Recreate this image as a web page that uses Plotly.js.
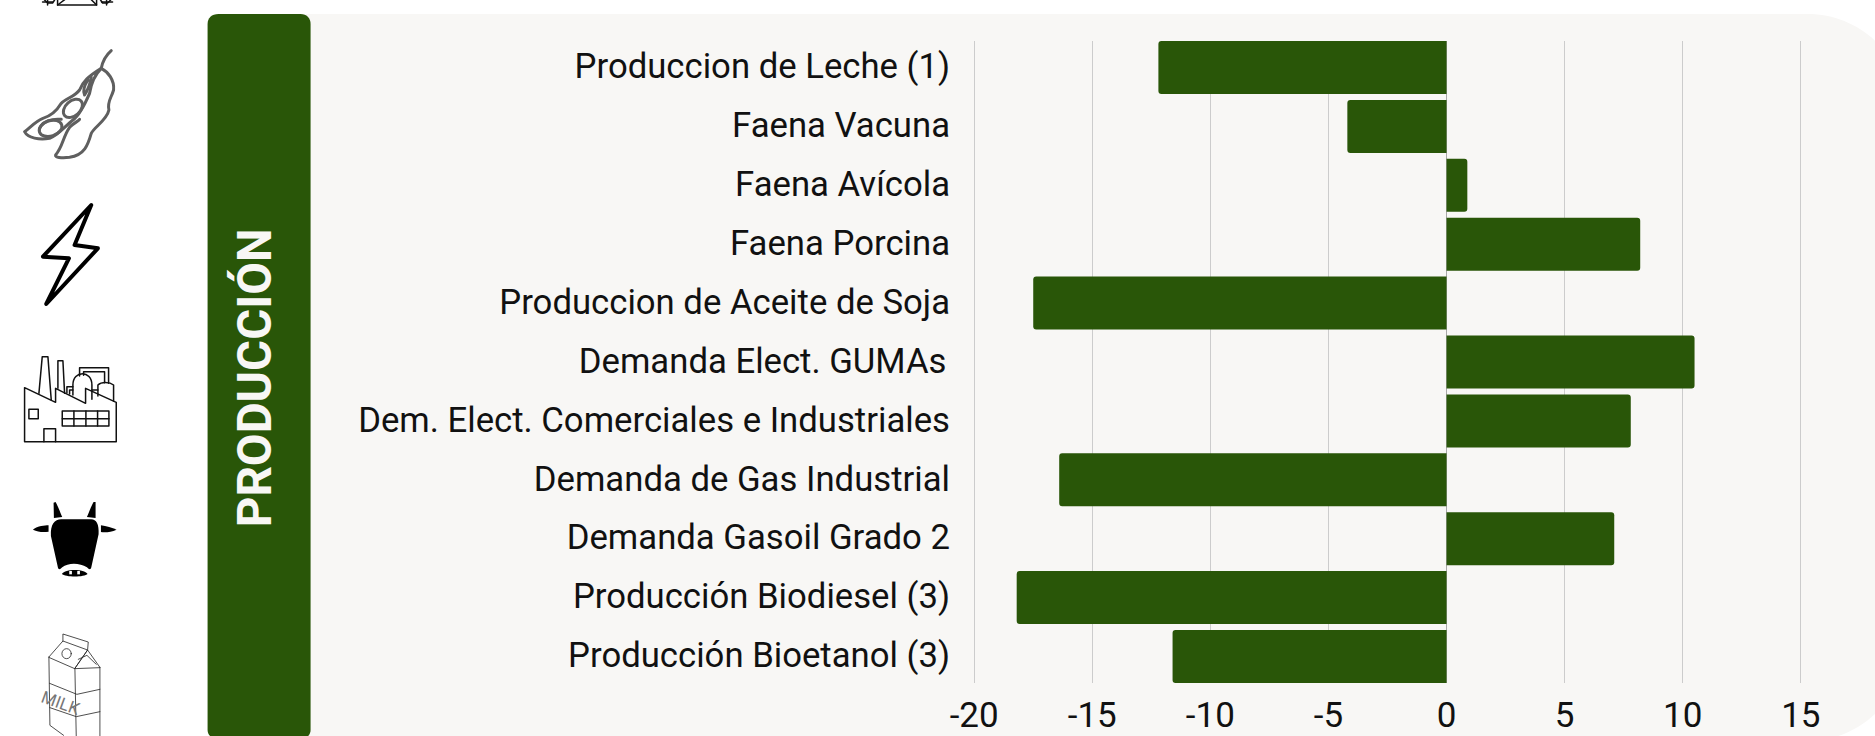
<!DOCTYPE html>
<html><head><meta charset="utf-8">
<script src="https://cdn.plot.ly/plotly-3.0.1.min.js"></script>
<style>html,body{margin:0;padding:0;background:#fff;overflow:hidden}#chart{width:1875px;height:736px}</style>
</head><body><div id="chart"></div>
<script>
const categories = ["Produccion de Leche (1)","Faena Vacuna","Faena Avícola","Faena Porcina","Produccion de Aceite de Soja","Demanda Elect. GUMAs\u200A","Dem. Elect. Comerciales e Industriales","Demanda de Gas Industrial","Demanda Gasoil Grado 2","Producción Biodiesel (3)","Producción Bioetanol (3)"];
const variation = [-12.2,-4.2,0.88,8.2,-17.5,10.5,7.8,-16.4,7.1,-18.2,-11.6];
const xTicks = [-20,-15,-10,-5,0,5,10,15];
const panelLabel = "PRODUCCIÓN";
const GREEN = "#295608", PANEL = "#f8f7f5";
const UNIT = 23.597, EDGE = 0.05;
const L = 974.6 - EDGE*UNIT, R = 1800.5 + EDGE*UNIT, T = 41.3, B = 683;

function toPath(d, ox, oy, s){
  return d.replace(/(-?[\d.]+),(-?[\d.]+)/g, (m,x,y)=>{
    const px = ox + (+x)/s, py = oy + (+y)/s;
    return (px-L).toFixed(2)+","+(B-py).toFixed(2);
  });
}
function ell(cx,cy,rx,ry,deg){
  const a=deg*Math.PI/180,k=0.5523,c=Math.cos(a),s=Math.sin(a);
  const p=(u,v)=>(cx+u*rx*c-v*ry*s).toFixed(1)+","+(cy+u*rx*s+v*ry*c).toFixed(1);
  return `M${p(1,0)} C${p(1,k)} ${p(k,1)} ${p(0,1)} C${p(-k,1)} ${p(-1,k)} ${p(-1,0)} C${p(-1,-k)} ${p(-k,-1)} ${p(0,-1)} C${p(k,-1)} ${p(1,-k)} ${p(1,0)} Z`;
}
function shape(d,ox,oy,s,line,width,fill){
  return {type:"path",layer:"below",xref:"paper",yref:"paper",xsizemode:"pixel",ysizemode:"pixel",xanchor:0,yanchor:0,
    path:toPath(d,ox,oy,s),line:{color:line||"rgba(0,0,0,0)",width:width||0},fillcolor:fill||"rgba(0,0,0,0)"};
}
const shapes = [];
shapes.push(shape("M300,14 L1808,14 C1862,14 1907,58 1907,113 L1907,642 C1907,696 1862,741 1808,741 L300,741 Z",0,0,1,null,0,PANEL));
shapes.push(shape("M219,14 L301,14 C307,14 311,18 311,24 L311,730 C311,735 307,739 301,739 L219,739 C212,739 208,735 208,730 L208,24 C208,18 212,14 219,14 Z",0,0,1,null,0,GREEN));
["M58,-2 L58,5 L97,5 L97,-2","M58,5 L66,-1","M97,5 L91,-1","M44,-1 L48,3 L53,3 L55,0","M48,-1 L48,5","M43,2 L53,2","M112,-1 L108,3 L103,3 L101,0","M107,-1 L107,5","M102,2 L113,2"].forEach(d=>shapes.push(shape(d,0,0,1,"#111",1.5)));
const soyC="#5f5f5f";
["M15,275 C30,265 45,245 70,235 C95,228 110,215 125,190 C140,175 165,170 180,150 C190,125 205,110 245,85 C225,105 215,125 210,160 C195,195 180,225 160,240 C130,265 115,285 90,295 C60,300 25,295 15,275 Z",
 "M245,85 C265,95 285,120 282,150 C275,175 262,185 268,210 C262,240 225,260 215,280 C205,315 195,345 150,352 C125,355 105,352 108,345 C130,320 130,290 150,262 C160,250 175,245 180,238",
 "M245,85 C250,60 260,45 275,32",
 "M205,120 C195,135 188,150 195,165 C205,150 212,130 215,112",
 "M60,265 C70,245 95,235 125,238",
 ell(93,265,35,23,-18), ell(160,205,33,22,-42)
].forEach(d=>shapes.push(shape(d,20,40,3,soyC,3)));
shapes.push(shape("M275,615 L225,735 L295,745 L140,912 L208,775 L130,770 Z",0,0,3,"#000",4));
["M88,160 L98,50 L115,50 L125,180","M145,145 L145,62 L160,62 L165,160",
 "M45,143 L45,305 L320,305 L320,187 L228,145 L228,190 L138,145 L138,187 Z",
 "M58,208 L86,208 L86,236 L58,236 Z","M103,305 L103,266 L138,266 L138,305",
 "M158,213 L298,213 L298,258 L158,258 Z","M158,236 L298,236","M193,213 L193,258","M229,213 L229,258","M264,213 L264,258",
 "M190,165 L190,135 C190,90 247,90 247,135 L247,178",
 "M210,108 L210,83 L297,83 L297,130","M222,106 L222,95 L285,95 L285,128",
 "M172,158 L172,140 L190,140","M180,162 L180,150 L190,150","M247,150 L265,150",
 "M265,168 L265,135 C275,125 300,125 312,135 L312,184"
].forEach(d=>shapes.push(shape(d,10,340,3,"#111",1.5)));
["M185,460 L275,460 C290,460 299,475 297,505 L276,600 C274,612 270,612 262,604 C240,590 205,590 188,604 C180,612 176,612 174,600 L154,510 C152,475 165,460 185,460 Z",
 "M187,624 C197,608 253,608 264,624 C255,634 197,634 187,624 Z",
 "M162,410 L168,408 C175,420 182,440 188,453 L163,456 Z","M288,408 L282,408 C275,420 268,440 262,453 L288,456 Z",
 "M100,491 C115,480 135,478 147,478 L147,497 C130,500 115,498 100,491 Z","M304,478 C320,480 338,485 351,491 C335,498 318,500 304,498 Z"
].forEach(d=>shapes.push(shape(d,0,366,3,null,0,"#000")));
["M209,615 L217,615 L217,625 L209,625 Z","M233,615 L241,615 L241,625 L233,625 Z"].forEach(d=>shapes.push(shape(d,0,366,3,null,0,"#fff")));
["M190,825 L190,804 L266,828 L264,852","M148,873 L190,825 L264,852 L226,907 Z","M226,907 L264,852 L301,904 Z","M236,880 L262,868 L290,895",
 "M148,873 L151,1078 L192,1108","M226,907 L230,1112","M301,904 L301,1112",
 "M150,952 L232,985 L301,970","M151,1025 L230,1052 L301,1037",
 ell(201,863,14,15,0)
].forEach(d=>shapes.push(shape(d,0,366,3,"#222",0.8)));

const data = [{type:"bar",orientation:"h",y:categories,x:variation,width:0.9,marker:{color:GREEN,line:{width:0}},hoverinfo:"x+y"}];
const layout = {
  width:1875,height:736,margin:{l:L,r:1875-R,t:T,b:736-B,pad:0},
  paper_bgcolor:"#fff",plot_bgcolor:"rgba(0,0,0,0)",showlegend:false,barcornerradius:3,
  font:{family:"Roboto, sans-serif",color:"#111"},
  xaxis:{range:[-20-EDGE,15+EDGE],tickmode:"array",tickvals:xTicks,ticktext:xTicks.map(String),showgrid:true,gridcolor:"#cccccc",gridwidth:1,
    zeroline:true,zerolinecolor:"#a8a8a8",zerolinewidth:1,showline:false,ticks:"",tickfont:{size:35,color:"#111",family:"Roboto, sans-serif"},ticklabelstandoff:8,automargin:false,fixedrange:true},
  yaxis:{type:"category",range:[10.45,-0.45],categoryorder:"array",categoryarray:categories,showgrid:false,zeroline:false,showline:false,ticks:"",
    tickfont:{size:34.7,color:"#111",family:"Roboto, sans-serif"},ticklabelstandoff:22,automargin:false,fixedrange:true},
  shapes:shapes,
  annotations:[
    {xref:"paper",yref:"paper",xanchor:"center",yanchor:"middle",x:(255.5-L)/(R-L),y:(B-378)/(B-T),text:panelLabel,showarrow:false,textangle:-90,
     font:{family:"Roboto, sans-serif",size:47.6,color:PANEL,weight:700}},
    {xref:"paper",yref:"paper",xanchor:"center",yanchor:"middle",x:(62.5-L)/(R-L),y:(B-702.5)/(B-T),text:"MILK",showarrow:false,textangle:20,
     font:{family:"Liberation Sans Narrow, Roboto, sans-serif",size:17,color:"#777",weight:400}}
  ]
};
Plotly.newPlot("chart",data,layout,{displayModeBar:false}).then(()=>{
  document.querySelectorAll(".shapelayer path").forEach(p=>{p.style.strokeLinejoin="round";p.style.strokeLinecap="round";});
  document.querySelectorAll(".yaxislayer-above").forEach(g=>g.setAttribute("transform","translate(0,-1.4)"));
});
</script></body></html>
